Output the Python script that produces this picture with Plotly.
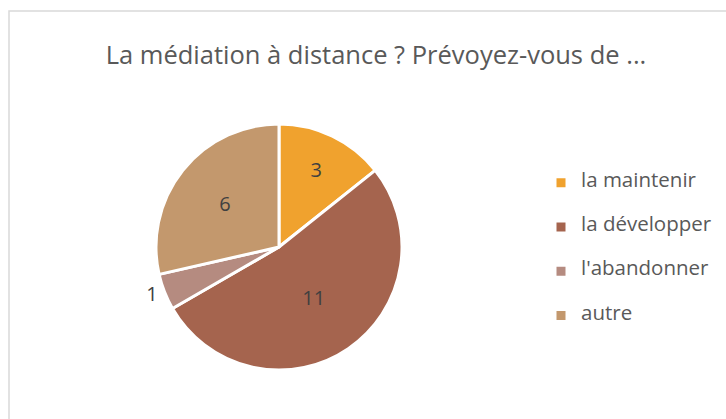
import plotly.graph_objects as go

categories = ["la maintenir", "la développer", "l'abandonner", "autre"]
values = [3, 11, 1, 6]
colors = ["#F0A22E", "#A5644E", "#B58B80", "#C3986D"]
title = "La médiation à distance ? Prévoyez-vous de ..."

W, H = 726, 419
FONT = "Open Sans"
LEG_SIZE = 20.5
ITEM_H = 44.3
leg_base = (ITEM_H - 3) / 3 / 1.3  # legend font size driving line height

legend_labels = [" <br><span style='font-size:%gpx'>%s</span><br> " % (LEG_SIZE, c)
                 for c in categories]

fig = go.Figure(go.Pie(
    labels=legend_labels,
    values=values,
    sort=False,
    direction="clockwise",
    rotation=0,
    marker=dict(colors=colors, line=dict(color="white", width=3)),
    texttemplate="%{value}",
    textposition=["inside", "inside", "outside", "inside"],
    insidetextorientation="horizontal",
    textfont=dict(family=FONT, size=20, color="#404040"),
    outsidetextfont=dict(family=FONT, size=20, color="#404040"),
    domain=dict(x=[156 / W, 402 / W], y=[1 - 370 / H, 1 - 124 / H]),
    hoverinfo="value",
))

fig.update_layout(
    width=W, height=H,
    margin=dict(l=0, r=0, t=0, b=0),
    paper_bgcolor="white",
    plot_bgcolor="white",
    font=dict(family=FONT, color="#595959"),
    title=dict(text=title, x=376 / W, xanchor="center", y=1 - 55 / H, yanchor="middle",
               yref="container", font=dict(family=FONT, size=25.5, color="#595959")),
    showlegend=True,
    legend=dict(x=541 / W, xanchor="left", y=1 - 249.5 / H, yanchor="middle",
                font=dict(family=FONT, size=leg_base, color="#595959"),
                bgcolor="rgba(0,0,0,0)", itemwidth=30, borderwidth=0),
    shapes=[dict(type="rect", xref="paper", yref="paper",
                 x0=9 / W, x1=1.05, y0=-0.05, y1=1 - 11 / H,
                 line=dict(color="#D9D9D9", width=1.5), fillcolor="rgba(0,0,0,0)", layer="below")],
)

fig.write_html("out.html", config={"displayModeBar": False},
               post_script="document.body.style.margin='0';")
